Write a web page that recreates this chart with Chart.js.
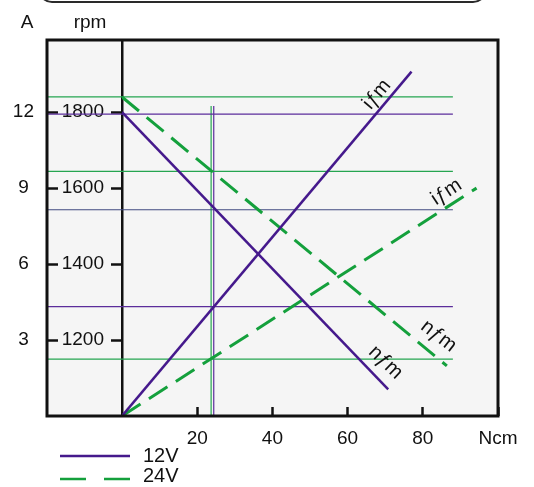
<!DOCTYPE html>
<html>
<head>
<meta charset="utf-8">
<script src="https://cdn.jsdelivr.net/npm/chart.js@4.4.0/dist/chart.umd.min.js"></script>
<style>
  body { margin: 0; background: #fff; }
  #wrap { position: relative; width: 534px; height: 487px; overflow: hidden; }
  #box { position: absolute; left: 38px; top: -40px; width: 449px; height: 43px; box-sizing: border-box; border: 2.5px solid #2a2a2a; border-radius: 14px; }
  canvas { position: absolute; left: 0; top: 0; }
</style>
</head>
<body>
<div id="wrap">
  <div id="box"></div>
  <canvas id="motorChart" width="534" height="487"></canvas>
</div>
<script>
const torqueTicks = [20, 40, 60, 80, 100];
const torqueTickLabels = ['20', '40', '60', '80', 'Ncm'];
const ampTicks = [3, 6, 9, 12];
const rpmTicks = [1200, 1400, 1600, 1800];

// 12 V (solid) / 24 V (dashed): current and speed over torque
const current12Ncm = [0, 77];
const current12A = [0, 13.6];
const speed12Ncm = [0, 70.8];
const speed12Rpm = [1800, 1070];
const current24Ncm = [0, 94.3];
const current24A = [0, 9.0];
const speed24Ncm = [0, 86.4];
const speed24Rpm = [1840, 1132];

// guide lines for the operating points
const guideNcm = [-20, 88];
const guideRpm = [1840, 1795, 1644, 1543, 1288, 1150];
const guideKind = ['g', 'p', 'g', 's', 'p', 'g'];
const markNcm = [23.7, 24.4];
const markKind = ['g', 'p'];
const markRpm = [1000, 1816];

const curveLabels = ['iƒm', 'iƒm', 'nƒm', 'nƒm'];
const curveLabelNcm = [67.8, 86.3, 70.1, 84.2];
const curveLabelVal = [12.7, 8.84, 1141, 1210];
const curveLabelAxis = ['yA', 'yA', 'yRpm', 'yRpm'];
const curveLabelAngle = [-50, -33, 44, 38];

const legendNames = ['12V', '24V'];

const PURPLE = '#45198c';
const GREEN = '#14a03c';
const thinColors = { g: '#25a550', p: '#5b2d9b', s: '#404a80' };
const INK = '#111';
const FONT = "'Liberation Sans', Arial, sans-serif";

function pts(xs, ys) {
  return xs.map((x, i) => ({ x: x, y: ys[i] }));
}
function fixedTicks(values) {
  return s => { s.ticks = values.map(v => ({ value: v })); };
}

const datasets = [
  { label: '12V', data: pts(current12Ncm, current12A), yAxisID: 'yA', borderColor: PURPLE, borderWidth: 2.5, order: 1 },
  { label: '12V n', data: pts(speed12Ncm, speed12Rpm), yAxisID: 'yRpm', borderColor: PURPLE, borderWidth: 2.5, order: 1 },
  { label: '24V', data: pts(current24Ncm, current24A), yAxisID: 'yA', borderColor: GREEN, borderWidth: 3, borderDash: [22, 10], order: 1 },
  { label: '24V n', data: pts(speed24Ncm, speed24Rpm), yAxisID: 'yRpm', borderColor: GREEN, borderWidth: 3, borderDash: [22, 10], order: 1 }
];
guideRpm.forEach((r, i) => {
  datasets.push({ data: pts(guideNcm, [r, r]), yAxisID: 'yRpm', borderColor: thinColors[guideKind[i]], borderWidth: 1.2, clip: false, order: 2 });
});
markNcm.forEach((x, i) => {
  datasets.push({ data: pts([x, x], markRpm), yAxisID: 'yRpm', borderColor: thinColors[markKind[i]], borderWidth: 1.2, order: 2 });
});

const framePlugin = {
  id: 'framePlugin',
  beforeDraw(chart) {
    const { ctx, chartArea, scales } = chart;
    const left = scales.yA.right;
    ctx.save();
    ctx.fillStyle = '#f5f5f5';
    ctx.fillRect(left, chartArea.top, chartArea.right - left, chartArea.bottom - chartArea.top);
    ctx.restore();
  },
  afterDraw(chart) {
    const { ctx, chartArea, scales } = chart;
    const left = scales.yA.right;
    ctx.save();
    ctx.strokeStyle = INK;
    ctx.lineWidth = 3;
    ctx.strokeRect(left, chartArea.top, chartArea.right - left, chartArea.bottom - chartArea.top);

    // labels along the curves
    ctx.fillStyle = INK;
    ctx.font = '20px ' + FONT;
    ctx.textAlign = 'center';
    ctx.textBaseline = 'middle';
    curveLabels.forEach((t, i) => {
      const x = scales.x.getPixelForValue(curveLabelNcm[i]);
      const y = scales[curveLabelAxis[i]].getPixelForValue(curveLabelVal[i]);
      ctx.save();
      ctx.translate(x, y);
      ctx.rotate(curveLabelAngle[i] * Math.PI / 180);
      ctx.fillText(t, 0, 0);
      ctx.restore();
    });

    // axis unit titles
    ctx.font = '19px ' + FONT;
    ctx.textBaseline = 'alphabetic';
    ctx.fillText('A', scales.yA.left + 27, 28);
    ctx.fillText('rpm', scales.yRpm.left + 43, 28);

    // legend
    ctx.font = '20px ' + FONT;
    ctx.textAlign = 'left';
    const rows = [456, 479];
    const textBase = [461.5, 481.5];
    legendNames.forEach((name, i) => {
      const ds = chart.data.datasets[i * 2];
      ctx.beginPath();
      ctx.strokeStyle = ds.borderColor;
      ctx.lineWidth = 2.5;
      ctx.setLineDash(ds.borderDash ? [26, 18] : []);
      ctx.moveTo(60, rows[i]);
      ctx.lineTo(130, rows[i]);
      ctx.stroke();
      ctx.setLineDash([]);
      ctx.fillText(name, 143, textBase[i]);
    });
    ctx.restore();
  }
};

const tickFont = { family: FONT, size: 19 };

new Chart(document.getElementById('motorChart'), {
  type: 'line',
  data: { datasets: datasets },
  options: {
    responsive: false,
    animation: false,
    elements: { point: { radius: 0 }, line: { tension: 0 } },
    layout: { padding: { left: 0, right: 36, top: 40, bottom: 0 } },
    plugins: { legend: { display: false }, tooltip: { enabled: false } },
    scales: {
      x: {
        type: 'linear', position: 'bottom', min: 0, max: 100,
        afterBuildTicks: fixedTicks(torqueTicks),
        afterFit: s => { s.height = 71; s.paddingLeft = 0; s.paddingRight = 0; },
        ticks: {
          maxRotation: 0, autoSkip: false, padding: 20, color: INK, font: tickFont,
          callback: (v, i) => torqueTickLabels[i]
        },
        grid: { drawOnChartArea: false, drawTicks: true, tickLength: -9, tickWidth: 2.5, tickColor: INK },
        border: { display: false }
      },
      yA: {
        type: 'linear', position: 'left', weight: 2, min: 0, max: 14.85,
        afterBuildTicks: fixedTicks(ampTicks),
        afterFit: s => { s.width = 47; },
        ticks: { autoSkip: false, crossAlign: 'center', padding: 24, color: INK, font: tickFont, callback: v => String(v) },
        grid: { drawOnChartArea: false, drawTicks: true, tickLength: -11, tickWidth: 2.5, tickColor: INK },
        border: { display: false }
      },
      yRpm: {
        type: 'linear', position: 'left', weight: 1, min: 1000, max: 1990,
        afterBuildTicks: fixedTicks(rpmTicks),
        afterFit: s => { s.width = 75; },
        ticks: { autoSkip: false, padding: 7, color: INK, font: tickFont, callback: v => String(v) },
        grid: { drawOnChartArea: false, drawTicks: true, tickLength: 11, tickWidth: 2.5, tickColor: INK },
        border: { display: true, color: INK, width: 2.5 }
      }
    }
  },
  plugins: [framePlugin]
});
</script>
</body>
</html>
